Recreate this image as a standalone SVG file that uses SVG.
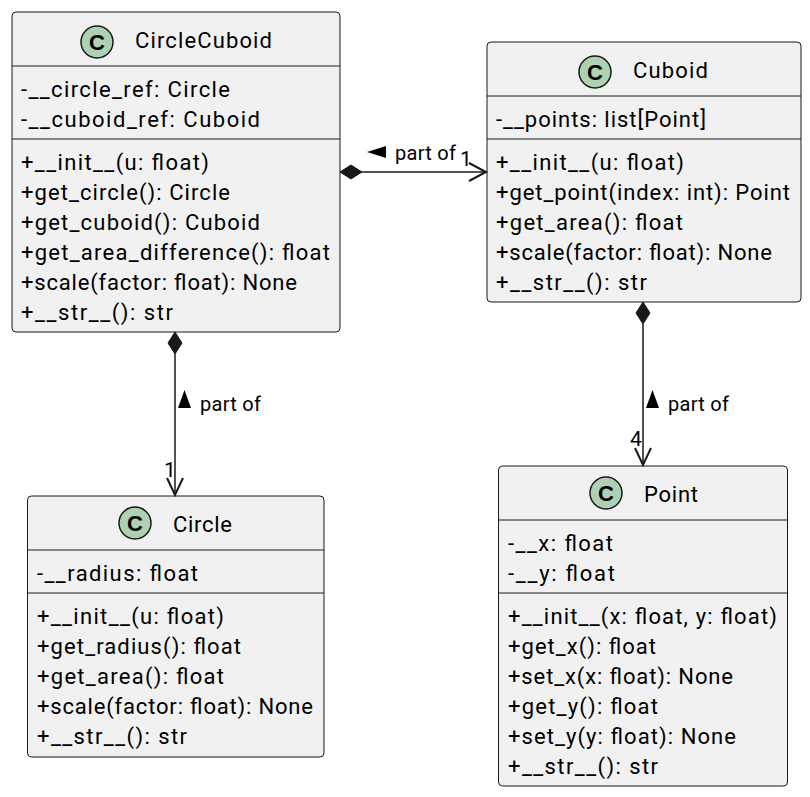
<svg xmlns="http://www.w3.org/2000/svg" width="810" height="797" viewBox="0 0 810 797">
<defs>
<style>
.box{fill:#F1F1F1;stroke:#181818;stroke-width:1}
.sep{stroke:#181818;stroke-width:1}
.icon{fill:#ADD1B2;stroke:#181818;stroke-width:1.5}
.ic{font-family:"Liberation Sans",Arial,sans-serif;font-size:22px;font-weight:bold;fill:#000;text-anchor:middle}
.t{font-family:Roboto,"Liberation Sans",sans-serif;font-size:22px;fill:#000}
.lbl{font-family:Roboto,"Liberation Sans",sans-serif;font-size:20px;fill:#000}
.card{font-family:Roboto,"Liberation Sans",sans-serif;font-size:21px;fill:#000}
.ln{stroke:#181818;stroke-width:1.5;fill:none}
.hd{stroke:#181818;stroke-width:2;fill:none}
.dia{fill:#181818;stroke:#181818;stroke-width:1}
.tri{fill:#000}
</style>
</defs>
<rect width="810" height="797" fill="#FFFFFF"/>

<g id="CircleCuboid">
<rect class="box" x="12" y="12" width="328" height="320" rx="4"/>
<circle class="icon" cx="97" cy="42" r="16"/>
<text class="ic" x="97" y="50">C</text>
<text class="t" x="135" y="48" textLength="137">CircleCuboid</text>
<line class="sep" x1="12" y1="66" x2="340" y2="66"/>
<text class="t" x="21" y="97" textLength="209">-__circle_ref: Circle</text>
<text class="t" x="21" y="127" textLength="239">-__cuboid_ref: Cuboid</text>
<line class="sep" x1="12" y1="139" x2="340" y2="139"/>
<text class="t" x="21" y="170" textLength="188">+__init__(u: float)</text>
<text class="t" x="21" y="200" textLength="209">+get_circle(): Circle</text>
<text class="t" x="21" y="230" textLength="239">+get_cuboid(): Cuboid</text>
<text class="t" x="21" y="260" textLength="309">+get_area_difference(): float</text>
<text class="t" x="21" y="290" textLength="276">+scale(factor: float): None</text>
<text class="t" x="21" y="320" textLength="152">+__str__(): str</text>
</g>

<g id="Cuboid">
<rect class="box" x="487" y="42" width="314" height="260" rx="4"/>
<circle class="icon" cx="595" cy="72" r="16"/>
<text class="ic" x="595" y="80">C</text>
<text class="t" x="633" y="78" textLength="75">Cuboid</text>
<line class="sep" x1="487" y1="96" x2="801" y2="96"/>
<text class="t" x="496" y="127" textLength="210">-__points: list[Point]</text>
<line class="sep" x1="487" y1="139" x2="801" y2="139"/>
<text class="t" x="496" y="170" textLength="188">+__init__(u: float)</text>
<text class="t" x="496" y="200" textLength="294">+get_point(index: int): Point</text>
<text class="t" x="496" y="230" textLength="187">+get_area(): float</text>
<text class="t" x="496" y="260" textLength="276">+scale(factor: float): None</text>
<text class="t" x="496" y="290" textLength="151">+__str__(): str</text>
</g>

<g id="Circle">
<rect class="box" x="27.5" y="496" width="296.5" height="261" rx="4"/>
<circle class="icon" cx="135" cy="523" r="16"/>
<text class="ic" x="135" y="531">C</text>
<text class="t" x="173" y="532" textLength="59">Circle</text>
<line class="sep" x1="27.5" y1="550" x2="324" y2="550"/>
<text class="t" x="37" y="581" textLength="161">-__radius: float</text>
<line class="sep" x1="27.5" y1="593" x2="324" y2="593"/>
<text class="t" x="37" y="624" textLength="187">+__init__(u: float)</text>
<text class="t" x="37" y="654" textLength="204">+get_radius(): float</text>
<text class="t" x="37" y="684" textLength="187">+get_area(): float</text>
<text class="t" x="37" y="714" textLength="276">+scale(factor: float): None</text>
<text class="t" x="37" y="744" textLength="150">+__str__(): str</text>
</g>

<g id="Point">
<rect class="box" x="498.5" y="466" width="289" height="320" rx="4"/>
<circle class="icon" cx="606" cy="493" r="16"/>
<text class="ic" x="606" y="501">C</text>
<text class="t" x="644" y="502" textLength="54">Point</text>
<line class="sep" x1="498.5" y1="520" x2="787.5" y2="520"/>
<text class="t" x="508" y="551" textLength="105">-__x: float</text>
<text class="t" x="508" y="581" textLength="107">-__y: float</text>
<line class="sep" x1="498.5" y1="593" x2="787.5" y2="593"/>
<text class="t" x="508" y="624" textLength="269">+__init__(x: float, y: float)</text>
<text class="t" x="508" y="654" textLength="148">+get_x(): float</text>
<text class="t" x="508" y="684" textLength="225">+set_x(x: float): None</text>
<text class="t" x="508" y="714" textLength="150">+get_y(): float</text>
<text class="t" x="508" y="744" textLength="228">+set_y(y: float): None</text>
<text class="t" x="508" y="774" textLength="150">+__str__(): str</text>
</g>

<g id="connectors">
<!-- CircleCuboid -> Cuboid -->
<line class="ln" x1="362" y1="172" x2="485" y2="172"/>
<polygon class="dia" points="340,172 351,165 362,172 351,179"/>
<polyline class="hd" points="469,163 486,172 469,181"/>
<polygon class="tri" points="367,152 386,146 386,158"/>
<text class="lbl" x="395" y="160" textLength="61">part of</text>
<text class="card" x="460" y="166">1</text>

<!-- CircleCuboid -> Circle -->
<line class="ln" x1="175" y1="354" x2="175" y2="494"/>
<polygon class="dia" points="175,332 182,343 175,354 168,343"/>
<polyline class="hd" points="167,478 175,495 183,478"/>
<polygon class="tri" points="184.5,390 178,408 191,408"/>
<text class="lbl" x="200" y="410.5" textLength="61">part of</text>
<text class="card" x="164" y="477">1</text>

<!-- Cuboid -> Point -->
<line class="ln" x1="643" y1="324" x2="643" y2="464"/>
<polygon class="dia" points="643,302 650,313 643,324 636,313"/>
<polyline class="hd" points="635,448 643,465 651,448"/>
<polygon class="tri" points="652.5,390 646,408 659,408"/>
<text class="lbl" x="668" y="410.5" textLength="61">part of</text>
<text class="card" x="630" y="446">4</text>
</g>
</svg>
